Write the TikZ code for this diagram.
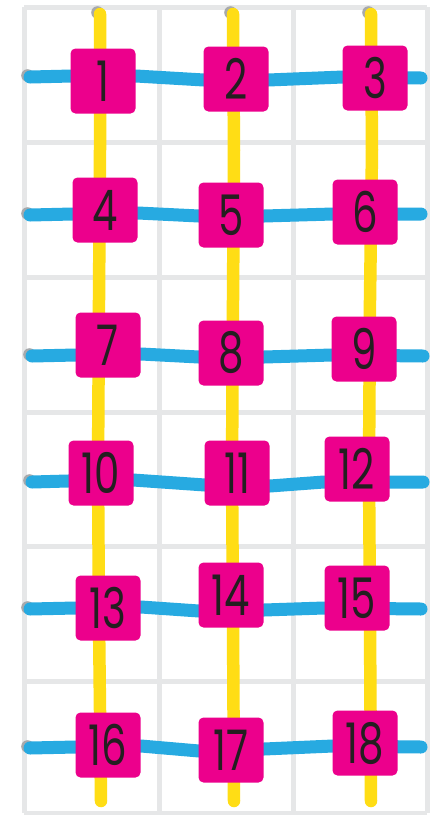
\documentclass[tikz,border=0pt]{standalone}
\usepackage{graphicx}
\usepackage{fontspec}
\setmainfont{Poppins}
\definecolor{gridgray}{HTML}{E6E7E8}
\definecolor{shadowgray}{HTML}{A7A9AC}
\definecolor{magentabox}{HTML}{EC008C}
\definecolor{ylw}{HTML}{FFDD15}
\definecolor{blu}{HTML}{27AAE1}
\definecolor{ink}{HTML}{231F20}
\newcommand{\narrowdigits}[1]{\scalebox{0.72}[1]{#1}}
\begin{document}
\begin{tikzpicture}[x=1pt,y=-1pt,
  gridline/.style={draw=gridgray,line width=5pt},
  yline/.style={draw=ylw,line width=12.5pt,line cap=round,line join=round},
  bline/.style={draw=blu,line width=13pt,line cap=round,line join=round},
  capshadow/.style={fill=shadowgray},
  numbox/.style={fill=magentabox,rounded corners=5pt,minimum width=65pt,minimum height=65pt,inner sep=0pt,text=ink,font=\fontsize{56}{56}\selectfont}]
\useasboundingbox (0,0) rectangle (434,815);
\fill[white] (0,0) rectangle (434,815);
% grid
\foreach \x in {24,159,293,427} \draw[gridline] (\x,7) -- (\x,813);
\foreach \y in {7,142,277,412,546,681,813} \draw[gridline] (24,\y) -- (427,\y);
% box centres
\path
  (103,81) coordinate (p1)  (236,79) coordinate (p2)  (375,78) coordinate (p3)
  (105,210) coordinate (p4) (231,215) coordinate (p5) (365,212) coordinate (p6)
  (108,345) coordinate (p7) (231,353) coordinate (p8) (364,349) coordinate (p9)
  (101,473) coordinate (p10) (237,473) coordinate (p11) (357,469) coordinate (p12)
  (108,608) coordinate (p13) (231,595) coordinate (p14) (357,598) coordinate (p15)
  (108,745) coordinate (p16) (231,750) coordinate (p17) (365,743) coordinate (p18);
% yellow line ends
\coordinate (y1t) at (100,14); \coordinate (y1b) at (101,801);
\coordinate (y2t) at (233,14); \coordinate (y2b) at (234,801);
\coordinate (y3t) at (371,14); \coordinate (y3b) at (371,801);
% blue line ends
\coordinate (b1l) at (30,77);  \coordinate (b1r) at (421,78);
\coordinate (b2l) at (30,215); \coordinate (b2r) at (421,214);
\coordinate (b3l) at (32,356); \coordinate (b3r) at (423,356);
\coordinate (b4l) at (32,482); \coordinate (b4r) at (423,482);
\coordinate (b5l) at (30,609); \coordinate (b5r) at (421,609);
\coordinate (b6l) at (30,748); \coordinate (b6r) at (421,747);
% cap shadows
\foreach \c in {y1t,y2t,y3t,b1l,b2l,b3l,b4l,b5l,b6l}
  \fill[capshadow] ([shift={(-2.5,-1.5)}]\c) circle (6.3pt);
% yellow verticals
\draw[yline] (y1t) -- (100,150) -- (99,300) -- (98,470) -- (99,620) -- (y1b);
\draw[yline] (y2t) -- (234,150) -- (233,300) -- (232,470) -- (233,620) -- (y2b);
\draw[yline] (y3t) -- (372,150) -- (370,300) -- (369,470) -- (370,620) -- (y3b);
% blue horizontals
\draw[bline] (b1l) -- (72,76) -- (136,76) -- (204,80) -- (268,80) -- (343,77) -- (b1r);
\draw[bline] (b2l) -- (73,214) -- (138,213) -- (199,216) -- (264,216) -- (333,214) -- (b2r);
\draw[bline] (b3l) -- (76,355) -- (141,354) -- (199,357) -- (264,357) -- (332,355) -- (b3r);
\draw[bline] (b4l) -- (68,481) -- (133,480) -- (205,485) -- (270,486) -- (324,482) -- (b4r);
\draw[bline] (b5l) -- (76,608) -- (141,607) -- (199,611) -- (264,610) -- (324,608) -- (b5r);
\draw[bline] (b6l) -- (76,747) -- (141,746) -- (199,751) -- (264,749) -- (333,746) -- (b6r);
% number boxes
\foreach \i in {1,...,18}
  \node[numbox] (n\i) at (p\i) {\narrowdigits{\i}};
\end{tikzpicture}
\end{document}
